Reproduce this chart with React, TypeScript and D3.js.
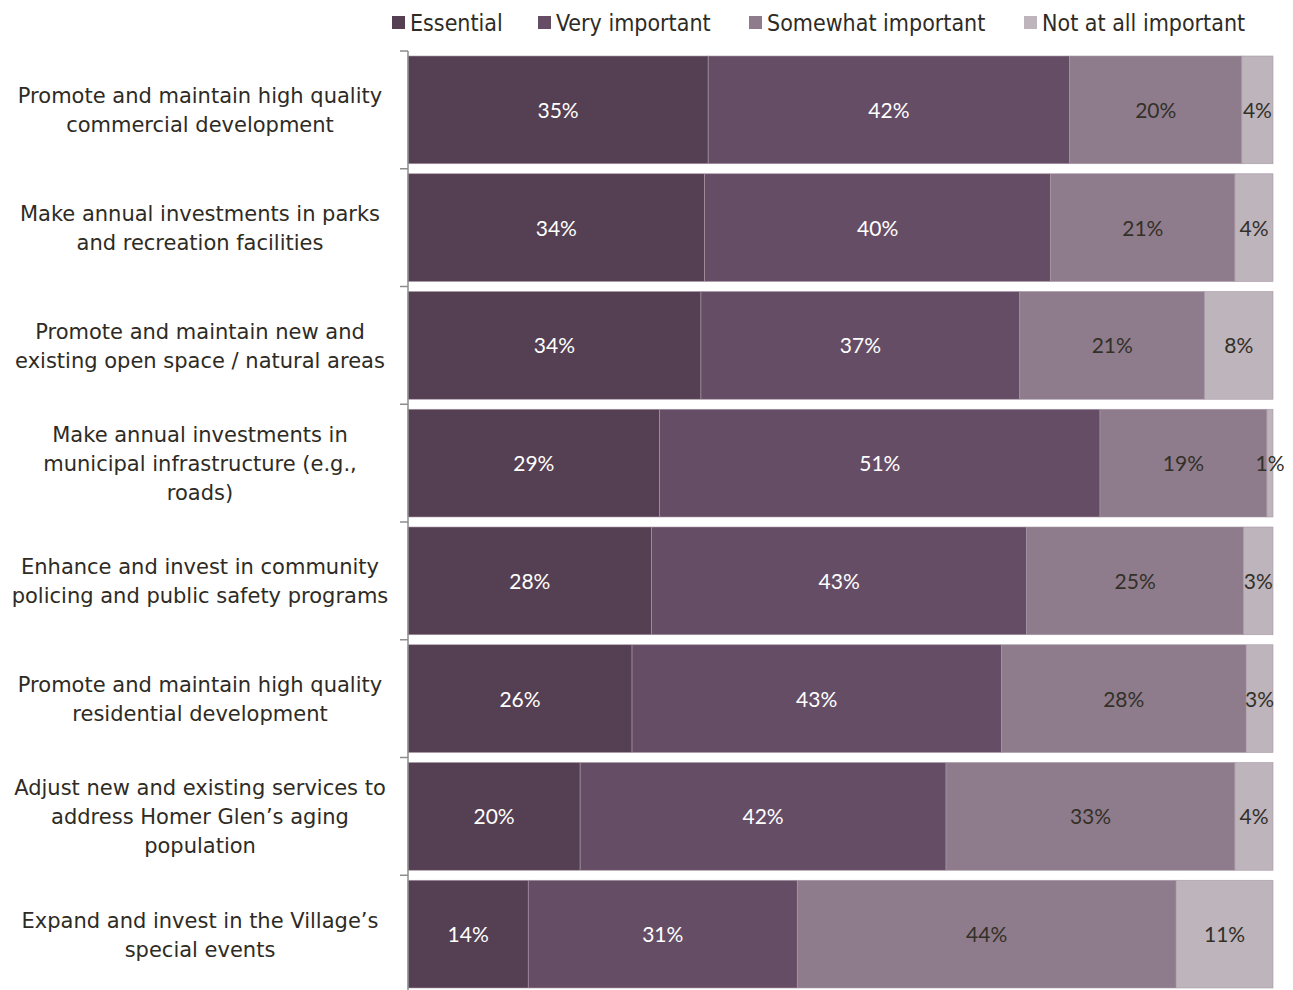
import React from "react";
import * as d3 from "d3";

const categories = [
  ["Promote and maintain high quality", "commercial development"],
  ["Make annual investments in parks", "and recreation facilities"],
  ["Promote and maintain new and", "existing open space / natural areas"],
  ["Make annual investments in", "municipal infrastructure (e.g.,", "roads)"],
  ["Enhance and invest in community", "policing and public safety programs"],
  ["Promote and maintain high quality", "residential development"],
  ["Adjust new and existing services to", "address Homer Glen\u2019s aging", "population"],
  ["Expand and invest in the Village\u2019s", "special events"],
];

const seriesNames = ["Essential", "Very important", "Somewhat important", "Not at all important"];

const essential = [34.7, 34.3, 33.9, 29.1, 28.2, 25.9, 19.9, 13.9];
const veryImportant = [41.8, 40.0, 36.9, 50.9, 43.4, 42.7, 42.3, 31.1];
const somewhatImportant = [19.9, 21.3, 21.4, 19.3, 25.1, 28.3, 33.4, 43.8];
const notImportant = [3.6, 4.4, 7.9, 0.7, 3.4, 3.1, 4.4, 11.2];

const labelEssential = ["35%", "34%", "34%", "29%", "28%", "26%", "20%", "14%"];
const labelVery = ["42%", "40%", "37%", "51%", "43%", "43%", "42%", "31%"];
const labelSomewhat = ["20%", "21%", "21%", "19%", "25%", "28%", "33%", "44%"];
const labelNot = ["4%", "4%", "8%", "1%", "3%", "3%", "4%", "11%"];

const colors = ["#553F53", "#664D66", "#8E7C8C", "#BDB4BC"];
const textColors = ["#ffffff", "#ffffff", "#333028", "#333028"];

export default function App() {
  const W = 1293, H = 990;
  const x0 = 408, x1 = 1273;
  const seriesVals = [essential, veryImportant, somewhatImportant, notImportant];
  const seriesLabels = [labelEssential, labelVery, labelSomewhat, labelNot];
  const idx = categories.map((_, i) => i);
  const y = d3.scaleBand<number>().domain(idx).range([51, 993]).paddingInner(0.085).paddingOuter(0.0425);
  const x = d3.scaleLinear().domain([0, 100]).range([x0, x1]);
  const step = y.step();

  const legendX = [392, 538, 749, 1024];

  return (
    <svg width={W} height={H} style={{ position: "absolute", left: 0, top: 0, background: "#fff" }}>
      {seriesNames.map((n, i) => (
        <g key={n}>
          <rect x={legendX[i]} y={16} width={13} height={13} fill={colors[i]} />
          <text x={legendX[i] + 18} y={31} fontFamily="'Liberation Sans Narrow', 'DejaVu Sans Condensed', 'Roboto Condensed', sans-serif" fontStretch="condensed" fontSize={23} fill="#2e2b24">{n}</text>
        </g>
      ))}
      {idx.map((r) => {
        let acc = 0;
        const total = seriesVals.reduce((s, a) => s + a[r], 0);
        return (
          <g key={r}>
            {seriesVals.map((arr, si) => {
              const v = (arr[r] / total) * 100;
              const start = acc;
              acc += v;
              const bx = x(start);
              const bw = x(acc) - x(start);
              return (
                <g key={si}>
                  <rect x={bx} y={y(r)} width={bw} height={y.bandwidth()} fill={colors[si]} stroke="#a898a6" strokeWidth={0.6} />
                  <text x={bx + bw / 2} y={y(r)! + y.bandwidth() / 2 + 8} textAnchor="middle" fontFamily="Lato, 'Open Sans', sans-serif" fontSize={21} fill={textColors[si]}>{seriesLabels[si][r]}</text>
                </g>
              );
            })}
          </g>
        );
      })}
      <line x1={x0} x2={x0} y1={51} y2={993} stroke="#8c8c8c" strokeWidth={1.5} />
      {d3.range(categories.length + 1).map((k) => (
        <line key={k} x1={x0 - 8} x2={x0} y1={51 + k * step} y2={51 + k * step} stroke="#8c8c8c" strokeWidth={1.5} />
      ))}
      {categories.map((lines, r) => {
        const cy = y(r)! + y.bandwidth() / 2;
        const lh = 29;
        const top = cy - ((lines.length - 1) * lh) / 2;
        return (
          <text key={r} textAnchor="middle" fontFamily="'DejaVu Sans', Verdana, sans-serif" fontSize={21} fill="#2e2b24">
            {lines.map((l, li) => (
              <tspan key={li} x={200} y={top + li * lh + 8}>{l}</tspan>
            ))}
          </text>
        );
      })}
    </svg>
  );
}
